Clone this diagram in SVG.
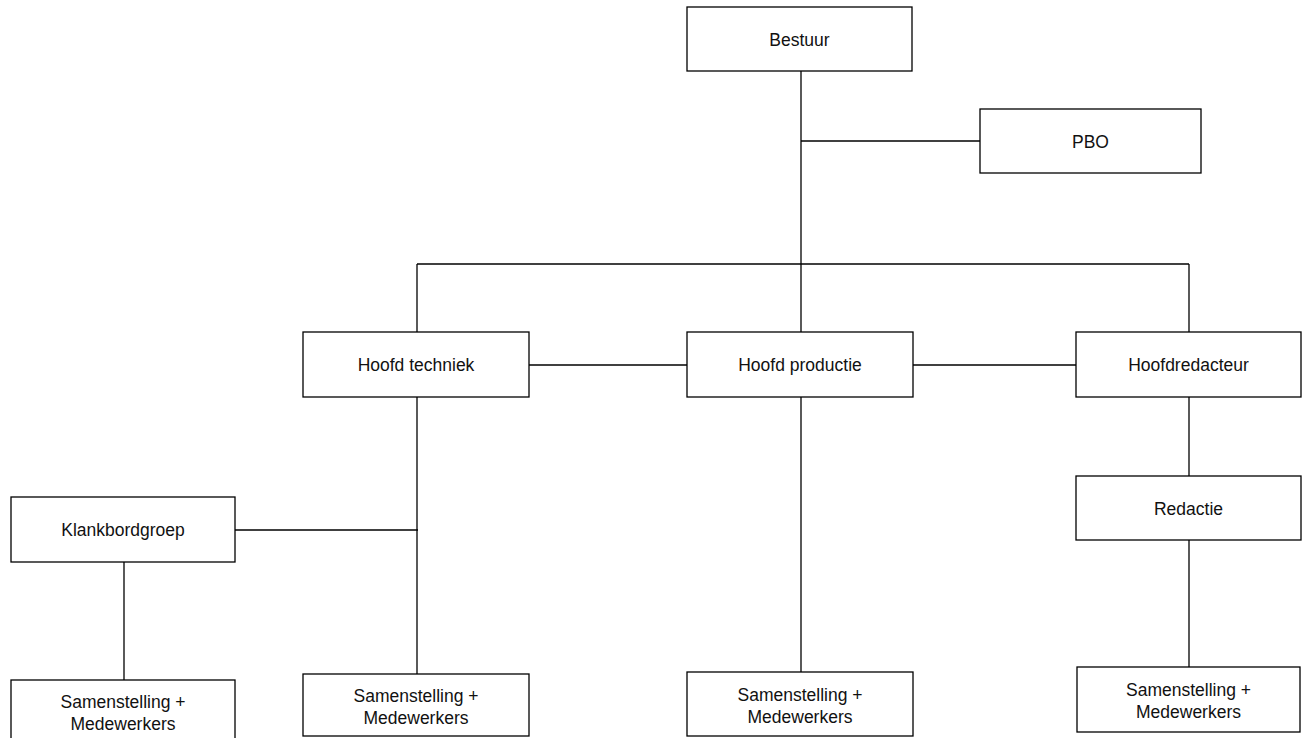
<svg xmlns="http://www.w3.org/2000/svg" width="1308" height="738" viewBox="0 0 1308 738">
<style>
.box{fill:#fff;stroke:#000;stroke-width:1.3}
.lbl{font-family:"Liberation Sans",Arial,sans-serif;font-size:17.5px;fill:#111;text-anchor:middle}
.con line{stroke:#000;stroke-width:1.3}
</style>
<rect width="1308" height="738" fill="#fff"/>
<g class="con" id="connectors">
<line x1="801" y1="71" x2="801" y2="332"/>
<line x1="801" y1="141" x2="980" y2="141"/>
<line x1="417" y1="264" x2="1189" y2="264"/>
<line x1="417" y1="264" x2="417" y2="332"/>
<line x1="1189" y1="264" x2="1189" y2="332"/>
<line x1="529" y1="365" x2="687" y2="365"/>
<line x1="913" y1="365" x2="1076" y2="365"/>
<line x1="417" y1="397" x2="417" y2="674"/>
<line x1="235" y1="530" x2="418" y2="530"/>
<line x1="124" y1="562" x2="124" y2="680"/>
<line x1="801" y1="397" x2="801" y2="672"/>
<line x1="1189" y1="397" x2="1189" y2="476"/>
<line x1="1189" y1="540" x2="1189" y2="667"/>
</g>
<g id="bestuur"><rect class="box" x="687" y="7" width="225" height="64"/><text class="lbl" x="799.5" y="46">Bestuur</text></g>
<g id="pbo"><rect class="box" x="980" y="109" width="221" height="64"/><text class="lbl" x="1090.5" y="148">PBO</text></g>
<g id="hoofd-techniek"><rect class="box" x="303" y="332" width="226" height="65"/><text class="lbl" x="416" y="371">Hoofd techniek</text></g>
<g id="hoofd-productie"><rect class="box" x="687" y="332" width="226" height="65"/><text class="lbl" x="800" y="371">Hoofd productie</text></g>
<g id="hoofdredacteur"><rect class="box" x="1076" y="332" width="225" height="65"/><text class="lbl" x="1188.5" y="371">Hoofdredacteur</text></g>
<g id="redactie"><rect class="box" x="1076" y="476" width="225" height="64"/><text class="lbl" x="1188.5" y="515">Redactie</text></g>
<g id="klankbordgroep"><rect class="box" x="11" y="497" width="224" height="65"/><text class="lbl" x="123" y="536">Klankbordgroep</text></g>
<g id="samenstelling-klankbord"><rect class="box" x="11" y="680" width="224" height="70"/><text class="lbl" x="123" y="708"><tspan x="123">Samenstelling +</tspan><tspan x="123" dy="21.5">Medewerkers</tspan></text></g>
<g id="samenstelling-techniek"><rect class="box" x="303" y="674" width="226" height="62"/><text class="lbl" x="416" y="702"><tspan x="416">Samenstelling +</tspan><tspan x="416" dy="21.5">Medewerkers</tspan></text></g>
<g id="samenstelling-productie"><rect class="box" x="687" y="672" width="226" height="64"/><text class="lbl" x="800" y="701"><tspan x="800">Samenstelling +</tspan><tspan x="800" dy="21.5">Medewerkers</tspan></text></g>
<g id="samenstelling-redactie"><rect class="box" x="1077" y="667" width="223" height="65"/><text class="lbl" x="1188.5" y="696"><tspan x="1188.5">Samenstelling +</tspan><tspan x="1188.5" dy="21.5">Medewerkers</tspan></text></g>
</svg>
